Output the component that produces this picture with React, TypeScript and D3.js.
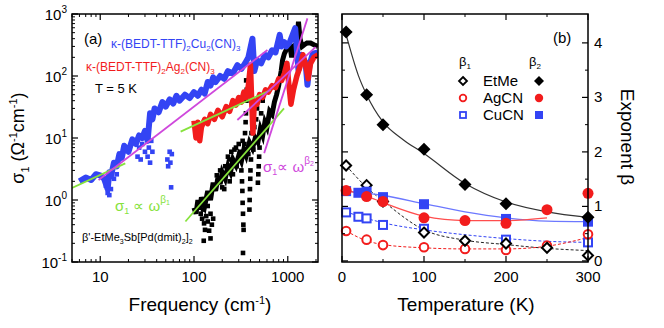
import * as d3 from 'd3';

// ---------- panel (a): optical conductivity at T = 5 K ----------
// kappa-(BEDT-TTF)2Cu2(CN)3 spectrum [frequency cm-1, sigma1]
const cuSpectrum: [number, number][] = [
  [6, 2.0], [7, 2.3], [8, 2.1], [9, 2.6], [10, 2.5], [11, 2.2], [12, 1.5], [12.5, 2.8],
  [13, 2.4], [14, 4.0], [15, 3.5], [16, 5.5], [17, 4.8], [18, 7.5], [20, 6.0], [22, 9.5],
  [24, 8.0], [26, 11], [28, 10], [30, 13], [32, 9], [34, 25], [36, 20], [38, 30],
  [42, 26], [46, 38], [50, 32], [55, 42], [60, 36], [65, 48], [70, 40], [80, 50],
  [90, 44], [100, 55], [110, 48], [120, 60], [130, 52], [140, 80], [150, 70], [160, 95],
  [170, 80], [190, 100], [210, 90], [230, 120], [260, 110], [290, 150], [320, 130],
  [350, 160], [380, 200], [420, 400], [440, 120], [470, 180], [520, 160], [570, 220],
  [620, 200], [680, 260], [740, 240], [820, 460], [860, 300], [920, 350], [960, 300],
  [1050, 350], [1200, 590], [1300, 125], [1380, 220], [1450, 200], [1550, 160],
  [1620, 72], [1700, 150], [1850, 230], [2100, 240],
];
// scattered CuCN points around the main trace
const cuScatter: [number, number][] = [
  [25, 5], [26, 7], [27, 4.5], [28, 8], [30, 6], [32, 5], [33, 7], [34, 4], [35, 9],
  [36, 6], [52, 4.5], [53, 3.5], [55, 6], [56, 4], [58, 5.5], [57, 1.6], [12, 1.3],
  [13, 1.5], [11.5, 1.7], [12.5, 1.2], [14, 2.2], [15, 2.6],
];

// kappa-(BEDT-TTF)2Ag2(CN)3 spectrum
const agSpectrum: [number, number][] = [
  [100, 19], [105, 10], [110, 18], [115, 9], [120, 15], [130, 20], [140, 17], [150, 24],
  [165, 20], [180, 28], [200, 22], [220, 32], [240, 27], [260, 40], [280, 34], [300, 45],
  [320, 38], [340, 55], [360, 45], [380, 70], [400, 150], [410, 50], [425, 12], [440, 40],
  [470, 35], [500, 50], [540, 45], [580, 60], [620, 55], [680, 70], [740, 65], [800, 90],
  [860, 85], [920, 110], [980, 160], [1020, 80], [1080, 35], [1150, 60], [1250, 100],
  [1350, 140], [1450, 220], [1550, 150], [1650, 90], [1750, 160], [1900, 200], [2100, 220],
];

// beta'-EtMe3Sb[Pd(dmit)2]2 main trace
const etSpectrum: [number, number][] = [
  [100, 0.75], [105, 0.6], [110, 1.0], [115, 0.7], [120, 1.1], [130, 0.8], [140, 1.4],
  [150, 1.0], [160, 1.9], [170, 1.4], [180, 2.3], [190, 1.8], [200, 2.8], [215, 2.2],
  [230, 3.5], [245, 2.8], [260, 4.5], [280, 3.6], [300, 5.2], [320, 4.2], [340, 6.5],
  [360, 5.2], [390, 8.5], [420, 6.8], [450, 10], [480, 8.5], [510, 14], [540, 11],
  [570, 18], [600, 15], [640, 27], [680, 24], [720, 38], [760, 50], [800, 70], [850, 120],
  [880, 180], [920, 230], [960, 260], [1000, 300], [1050, 320], [1100, 200], [1150, 300],
  [1250, 340], [1300, 750], [1350, 400], [1420, 300], [1500, 320], [1600, 340],
  [1750, 340], [1900, 320], [2100, 300],
];
// beta'-EtMe3Sb[Pd(dmit)2]2 scattered points (vertical streaks)
const etScatter: [number, number][] = [
  [118, 0.6], [122, 0.5], [125, 0.7], [128, 0.42], [131, 0.33], [135, 0.55], [140, 0.45],
  [145, 0.32], [150, 0.6], [155, 0.4], [160, 0.5], [150, 0.24], [127, 0.22], [140, 0.8],
  [320, 3], [325, 2], [328, 1.4], [330, 0.9], [333, 0.6], [336, 0.4], [338, 0.33],
  [333, 0.14], [345, 8], [350, 12], [355, 18], [358, 25], [362, 40], [365, 60], [360, 85],
  [390, 0.7], [392, 1.0], [395, 1.5], [398, 2.2], [400, 3], [405, 4.5], [410, 12],
  [420, 18], [430, 25], [440, 15], [460, 20], [480, 1.9], [485, 2.6], [490, 3.5],
  [495, 5], [500, 7], [470, 30], [520, 25], [540, 40], [280, 7], [250, 6], [230, 5],
  [300, 8], [200, 1.6], [215, 3.5], [260, 2.6], [285, 3.5], [380, 5.5], [430, 6.5],
  [175, 2.5], [190, 3], [210, 1.5], [240, 4.5], [270, 6.5], [310, 6], [330, 9], [240, 2],
];

// power-law fits: [start, end] points
const fitsBeta2: [number, number][][] = [
  [[9.6, 2.1], [607, 263]],
  [[290, 19.5], [2000, 297]],
  [[560, 5.7], [1620, 850]],
];
const fitsBeta1: [number, number][][] = [
  [[5, 1.56], [18.5, 3.9]],
  [[72, 12.7], [657, 59.5]],
  [[81, 0.45], [912, 30]],
];

const freqTicks = [10, 100, 1000];
const sigmaTicks = [0.1, 1, 10, 100, 1000];
const sigmaExps = ['-1', '0', '1', '2', '3'];

// ---------- panel (b): exponents vs temperature ----------
const etT2 = [5, 30, 50, 100, 150, 200, 300];
const etB2 = [4.2, 3.05, 2.5, 2.05, 1.4, 1.05, 0.8];
const etT1 = [5, 30, 50, 100, 150, 200, 250, 300];
const etB1 = [1.75, 1.39, 1.09, 0.52, 0.37, 0.32, 0.24, 0.1];
const agT = [5, 30, 50, 100, 150, 200, 250, 300];
const agB2 = [1.29, 1.18, 1.09, 0.79, 0.74, 0.69, 0.94, 1.24];
const agB1 = [0.55, 0.39, 0.29, 0.25, 0.22, 0.2, 0.28, 0.49];
const cuT = [5, 20, 30, 50, 100, 200, 300];
const cuB2 = [1.28, 1.25, 1.27, 1.17, 1.04, 0.77, 0.72];
const cuB1 = [0.89, 0.81, 0.78, 0.66, 0.59, 0.39, 0.34];

// guide curves
const etB2Curve: [number, number][] = [
  [5, 4.15], [20, 3.4], [30, 3.05], [50, 2.55], [75, 2.22], [100, 1.97], [150, 1.42],
  [200, 1.08], [250, 0.9], [300, 0.8],
];
const etB1Curve: [number, number][] = [
  [5, 1.75], [30, 1.35], [50, 1.1], [100, 0.57], [150, 0.38], [200, 0.3], [250, 0.23], [300, 0.19],
];
const cuB2Curve: [number, number][] = [
  [5, 1.28], [50, 1.2], [100, 1.05], [150, 0.9], [200, 0.79], [250, 0.73], [300, 0.72],
];
const agB2Curve: [number, number][] = [
  [5, 1.3], [30, 1.19], [50, 1.07], [100, 0.82], [150, 0.74], [200, 0.74], [250, 0.79],
];
const cuB1Curve: [number, number][] = [
  [5, 0.9], [30, 0.78], [50, 0.7], [100, 0.57], [150, 0.48], [200, 0.41], [250, 0.36], [300, 0.34],
];
const agB1Curve: [number, number][] = [
  [5, 0.55], [30, 0.37], [50, 0.3], [100, 0.24], [150, 0.22], [200, 0.22], [250, 0.27], [300, 0.43],
];

const tempTicks = [0, 100, 200, 300];
const betaTicks = [0, 1, 2, 3, 4];

const BLUE = '#3344f4';
const RED = '#f21c1c';
const GREEN = '#86e23c';
const MAGENTA = '#cf48dc';
const FONT = 'Liberation Sans, Arial, sans-serif';

export default function App() {
  // panel (a) frame
  const aL = 72, aR = 318, top = 14, bottom = 262;
  const x = d3.scaleLog().domain([5, 2100]).range([aL, aR]);
  const y = d3.scaleLog().domain([0.1, 1000]).range([bottom, top]);

  // panel (b) frame
  const bL = 342, bR = 588;
  const xT = d3.scaleLinear().domain([0, 300]).range([bL, bR]);
  const yB = d3.scaleLinear().domain([-0.02, 4.53]).range([bottom, top]);

  const specLine = d3.line<[number, number]>().x((d) => x(d[0])).y((d) => y(d[1]));
  const curve = d3
    .line<[number, number]>()
    .x((d) => xT(d[0]))
    .y((d) => yB(d[1]))
    .curve(d3.curveMonotoneX);

  // minor ticks for log axes
  const minorX: number[] = [];
  [1, 10, 100, 1000].forEach((dec) => {
    for (let k = 2; k <= 9; k++) {
      const v = dec * k;
      if (v >= 5 && v <= 2100) minorX.push(v);
    }
  });
  const minorY: number[] = [];
  [0.1, 1, 10, 100].forEach((dec) => {
    for (let k = 2; k <= 9; k++) minorY.push(dec * k);
  });

  const diamond = (cx: number, cy: number, r: number) =>
    `M${cx},${cy - r}L${cx + r},${cy}L${cx},${cy + r}L${cx - r},${cy}Z`;

  return (
    <svg
      width={664}
      height={328}
      style={{ position: 'absolute', left: 0, top: 0, background: '#fff' }}
      fontFamily={FONT}
    >
      <defs>
        <clipPath id="clipA">
          <rect x={aL} y={top} width={aR - aL} height={bottom - top} />
        </clipPath>
      </defs>

      {/* ===== panel (a) ===== */}
      <g clipPath="url(#clipA)">
        {/* black */}
        {etScatter.map((d, i) => (
          <rect key={`es${i}`} x={x(d[0]) - 2.3} y={y(d[1]) - 2.3} width={4.6} height={4.6} fill="#000" />
        ))}
        <path d={specLine(etSpectrum) ?? ''} fill="none" stroke="#000" strokeWidth={5} strokeLinejoin="miter" />
        {/* blue */}
        {cuScatter.map((d, i) => (
          <rect key={`cs${i}`} x={x(d[0]) - 2.3} y={y(d[1]) - 2.3} width={4.6} height={4.6} fill={BLUE} />
        ))}
        <path d={specLine(cuSpectrum) ?? ''} fill="none" stroke={BLUE} strokeWidth={6} strokeLinejoin="round" />
        {/* red */}
        <path d={specLine(agSpectrum) ?? ''} fill="none" stroke={RED} strokeWidth={5.5} strokeLinejoin="round" />
        {/* fits */}
        {fitsBeta1.map((f, i) => (
          <path key={`g${i}`} d={specLine(f) ?? ''} stroke={GREEN} strokeWidth={1.8} fill="none" />
        ))}
        {fitsBeta2.map((f, i) => (
          <path key={`m${i}`} d={specLine(f) ?? ''} stroke={MAGENTA} strokeWidth={1.8} fill="none" />
        ))}
      </g>

      {/* frame and ticks (a) */}
      <rect x={aL} y={top} width={aR - aL} height={bottom - top} fill="none" stroke="#000" strokeWidth={1.5} />
      {freqTicks.map((t) => (
        <g key={`fx${t}`}>
          <line x1={x(t)} x2={x(t)} y1={bottom} y2={bottom - 6} stroke="#000" strokeWidth={1.2} />
          <line x1={x(t)} x2={x(t)} y1={top} y2={top + 6} stroke="#000" strokeWidth={1.2} />
          <text x={x(t)} y={bottom + 20} textAnchor="middle" fontSize={15}>
            {t}
          </text>
        </g>
      ))}
      {minorX.map((t) => (
        <g key={`mx${t}`}>
          <line x1={x(t)} x2={x(t)} y1={bottom} y2={bottom - 3} stroke="#000" strokeWidth={1} />
          <line x1={x(t)} x2={x(t)} y1={top} y2={top + 3} stroke="#000" strokeWidth={1} />
        </g>
      ))}
      {sigmaTicks.map((t, i) => (
        <g key={`sy${t}`}>
          <line x1={aL} x2={aL + 6} y1={y(t)} y2={y(t)} stroke="#000" strokeWidth={1.2} />
          <line x1={aR} x2={aR - 6} y1={y(t)} y2={y(t)} stroke="#000" strokeWidth={1.2} />
          <text x={aL - 5} y={y(t) + 6} textAnchor="end" fontSize={15}>
            10
            <tspan dy={-7} fontSize={10}>
              {sigmaExps[i]}
            </tspan>
          </text>
        </g>
      ))}
      {minorY.map((t) => (
        <g key={`my${t}`}>
          <line x1={aL} x2={aL + 3} y1={y(t)} y2={y(t)} stroke="#000" strokeWidth={1} />
          <line x1={aR} x2={aR - 3} y1={y(t)} y2={y(t)} stroke="#000" strokeWidth={1} />
        </g>
      ))}

      {/* axis titles (a) */}
      <text x={200} y={311} textAnchor="middle" fontSize={19}>
        Frequency (cm
        <tspan dy={-7} fontSize={11}>-1</tspan>
        <tspan dy={7}>)</tspan>
      </text>
      <text transform="translate(24,138) rotate(-90)" textAnchor="middle" fontSize={18}>
        σ<tspan dy={5} fontSize={11}>1</tspan>
        <tspan dy={-5}> (Ω</tspan>
        <tspan dy={-7} fontSize={11}>-1</tspan>
        <tspan dy={7}>cm</tspan>
        <tspan dy={-7} fontSize={11}>-1</tspan>
        <tspan dy={7}>)</tspan>
      </text>

      {/* annotations (a) */}
      <text x={84} y={44} fontSize={15}>(a)</text>
      <text x={111} y={48} fontSize={12} fill={BLUE}>
        κ-(BEDT-TTF)<tspan dy={3} fontSize={8}>2</tspan>
        <tspan dy={-3}>Cu</tspan>
        <tspan dy={3} fontSize={8}>2</tspan>
        <tspan dy={-3}>(CN)</tspan>
        <tspan dy={3} fontSize={8}>3</tspan>
      </text>
      <text x={86} y={71} fontSize={12} fill={RED}>
        κ-(BEDT-TTF)<tspan dy={3} fontSize={8}>2</tspan>
        <tspan dy={-3}>Ag</tspan>
        <tspan dy={3} fontSize={8}>2</tspan>
        <tspan dy={-3}>(CN)</tspan>
        <tspan dy={3} fontSize={8}>3</tspan>
      </text>
      <text x={95} y={93} fontSize={13}>T = 5 K</text>
      <text x={263} y={172} fontSize={15} fill={MAGENTA}>
        σ<tspan dy={3} fontSize={9}>1</tspan>
        <tspan dy={-3}>∝ ω</tspan>
        <tspan dy={-8} fontSize={10}>β</tspan>
        <tspan dy={2} fontSize={7}>2</tspan>
      </text>
      <text x={115} y={211} fontSize={15} fill={GREEN}>
        σ<tspan dy={3} fontSize={9}>1</tspan>
        <tspan dy={-3}> ∝ ω</tspan>
        <tspan dy={-8} fontSize={10}>β</tspan>
        <tspan dy={2} fontSize={7}>1</tspan>
      </text>
      <text x={82} y={241} fontSize={11}>
        β&apos;-EtMe<tspan dy={3} fontSize={7}>3</tspan>
        <tspan dy={-3}>Sb[Pd(dmit)</tspan>
        <tspan dy={3} fontSize={7}>2</tspan>
        <tspan dy={-3}>]</tspan>
        <tspan dy={3} fontSize={7}>2</tspan>
      </text>

      {/* ===== panel (b) ===== */}
      <path d={curve(etB1Curve) ?? ''} fill="none" stroke="#222" strokeWidth={1} strokeDasharray="3,2" />
      <path d={curve(cuB1Curve) ?? ''} fill="none" stroke={BLUE} strokeWidth={1} strokeDasharray="3,2" />
      <path d={curve(agB1Curve) ?? ''} fill="none" stroke={RED} strokeWidth={1} strokeDasharray="3,2" />
      <path d={curve(cuB2Curve) ?? ''} fill="none" stroke="#6c78ff" strokeWidth={1.3} />
      <path d={curve(agB2Curve) ?? ''} fill="none" stroke="#ff4d4d" strokeWidth={1.3} />
      <path d={curve(etB2Curve) ?? ''} fill="none" stroke="#333" strokeWidth={1.2} />

      {/* open markers: beta1 */}
      {cuT.map((t, i) => (
        <rect key={`cb1${i}`} x={xT(t) - 4} y={yB(cuB1[i]) - 4} width={8} height={8} fill="#fff" stroke={BLUE} strokeWidth={2} />
      ))}
      {agT.map((t, i) => (
        <circle key={`ab1${i}`} cx={xT(t)} cy={yB(agB1[i])} r={4.3} fill="#fff" stroke={RED} strokeWidth={2} />
      ))}
      {etT1.map((t, i) => (
        <path key={`eb1${i}`} d={diamond(xT(t), yB(etB1[i]), 5)} fill="#fff" stroke="#000" strokeWidth={2} />
      ))}
      {/* filled markers: beta2 */}
      {cuT.map((t, i) => (
        <rect key={`cb2${i}`} x={xT(t) - 5} y={yB(cuB2[i]) - 5} width={10} height={10} fill={BLUE} />
      ))}
      {agT.map((t, i) => (
        <circle key={`ab2${i}`} cx={xT(t)} cy={yB(agB2[i])} r={5.5} fill={RED} />
      ))}
      {etT2.map((t, i) => (
        <path key={`eb2${i}`} d={diamond(xT(t), yB(etB2[i]), 6.5)} fill="#000" />
      ))}

      {/* frame and ticks (b) */}
      <rect x={bL} y={top} width={bR - bL} height={bottom - top} fill="none" stroke="#000" strokeWidth={1.5} />
      {tempTicks.map((t) => (
        <g key={`tx${t}`}>
          <line x1={xT(t)} x2={xT(t)} y1={bottom} y2={bottom - 6} stroke="#000" strokeWidth={1.2} />
          <line x1={xT(t)} x2={xT(t)} y1={top} y2={top + 6} stroke="#000" strokeWidth={1.2} />
          <text x={xT(t)} y={bottom + 20} textAnchor="middle" fontSize={15}>
            {t}
          </text>
        </g>
      ))}
      {[50, 150, 250].map((t) => (
        <g key={`tmx${t}`}>
          <line x1={xT(t)} x2={xT(t)} y1={bottom} y2={bottom - 3} stroke="#000" strokeWidth={1} />
          <line x1={xT(t)} x2={xT(t)} y1={top} y2={top + 3} stroke="#000" strokeWidth={1} />
        </g>
      ))}
      {betaTicks.map((t) => (
        <g key={`by${t}`}>
          <line x1={bL} x2={bL + 6} y1={yB(t)} y2={yB(t)} stroke="#000" strokeWidth={1.2} />
          <line x1={bR} x2={bR - 6} y1={yB(t)} y2={yB(t)} stroke="#000" strokeWidth={1.2} />
          <text x={bR + 6} y={yB(t) + 5} fontSize={15}>
            {t}
          </text>
        </g>
      ))}
      {[0.5, 1.5, 2.5, 3.5].map((t) => (
        <g key={`bmy${t}`}>
          <line x1={bL} x2={bL + 3} y1={yB(t)} y2={yB(t)} stroke="#000" strokeWidth={1} />
          <line x1={bR} x2={bR - 3} y1={yB(t)} y2={yB(t)} stroke="#000" strokeWidth={1} />
        </g>
      ))}

      {/* axis titles (b) */}
      <text x={466} y={311} textAnchor="middle" fontSize={19}>
        Temperature (K)
      </text>
      <text transform="translate(621,137) rotate(90)" textAnchor="middle" fontSize={19}>
        Exponent β
      </text>

      {/* legend (b) */}
      <text x={553} y={43} fontSize={15}>(b)</text>
      <text x={459} y={66} fontSize={13}>
        β<tspan dy={3} fontSize={8}>1</tspan>
      </text>
      <text x={529} y={66} fontSize={13}>
        β<tspan dy={3} fontSize={8}>2</tspan>
      </text>
      <path d={diamond(463, 81, 4)} fill="#fff" stroke="#000" strokeWidth={1.8} />
      <path d={diamond(539, 81, 5)} fill="#000" />
      <text x={483} y={86} fontSize={15}>EtMe</text>
      <circle cx={463} cy={98} r={3.3} fill="#fff" stroke={RED} strokeWidth={1.8} />
      <circle cx={539} cy={98} r={4.2} fill={RED} />
      <text x={483} y={103} fontSize={15}>AgCN</text>
      <rect x={460} y={112} width={6} height={6} fill="#fff" stroke={BLUE} strokeWidth={1.8} />
      <rect x={535} y={111} width={8} height={8} fill={BLUE} />
      <text x={483} y={120} fontSize={15}>CuCN</text>
    </svg>
  );
}
